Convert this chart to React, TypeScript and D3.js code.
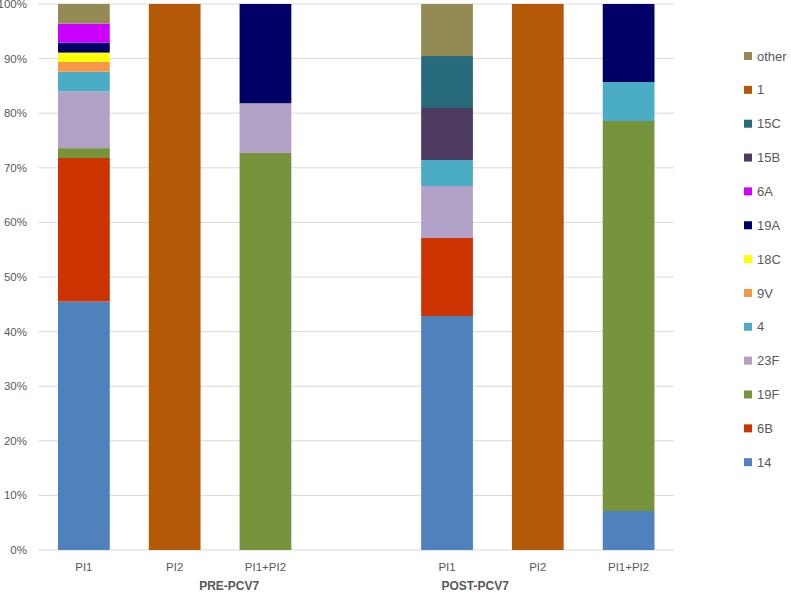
import React from "react";
import * as d3 from "d3";

const W = 791;
const H = 592;

const categories = ["PI1", "PI2", "PI1+PI2", "", "PI1", "PI2", "PI1+PI2"];
const slotKeys = ["pre-PI1", "pre-PI2", "pre-PI12", "gap", "post-PI1", "post-PI2", "post-PI12"];
const groups = ["PRE-PCV7", "POST-PCV7"];

// series in stacking order (bottom -> top); values for the 6 bars
const seriesNames = ["14", "6B", "19F", "23F", "4", "9V", "18C", "19A", "6A", "15B", "15C", "1", "other"];
const seriesColors = ["#4F81BD", "#CC3300", "#77933C", "#B2A1C7", "#4BACC6", "#F79646", "#FFFF00", "#000066", "#CC00FF", "#4D3B62", "#276A7C", "#B45908", "#948A54"];

const s14 = [45.5, 0, 0, 42.86, 0, 7.14];
const s6B = [26.3, 0, 0, 14.29, 0, 0];
const s19F = [1.8, 0, 72.73, 0, 0, 71.43];
const s23F = [10.4, 0, 9.09, 9.52, 0, 0];
const s4 = [3.6, 0, 0, 4.76, 0, 7.14];
const s9V = [1.8, 0, 0, 0, 0, 0];
const s18C = [1.7, 0, 0, 0, 0, 0];
const s19A = [1.8, 0, 18.18, 0, 0, 14.29];
const s6A = [3.5, 0, 0, 0, 0, 0];
const s15B = [0, 0, 0, 9.52, 0, 0];
const s15C = [0, 0, 0, 9.52, 0, 0];
const s1 = [0, 100, 0, 0, 100, 0];
const sOther = [3.6, 0, 0, 9.52, 0, 0];

const seriesValues = [s14, s6B, s19F, s23F, s4, s9V, s18C, s19A, s6A, s15B, s15C, s1, sOther];
const barKeys = ["pre-PI1", "pre-PI2", "pre-PI12", "post-PI1", "post-PI2", "post-PI12"];

const yTicks = [0, 10, 20, 30, 40, 50, 60, 70, 80, 90, 100];

const FONT = "'Liberation Sans', Arial, sans-serif";
const TEXT = "#595959";

export default function App() {
  const left = 38.5;
  const right = 674;
  const top = 4;
  const bottom = 550;

  const x = d3.scaleBand<string>().domain(slotKeys).range([left, right]).paddingInner(0.43).paddingOuter(0.215);
  const y = d3.scaleLinear().domain([0, 100]).range([bottom, top]);

  const rows = barKeys.map((k, i) => {
    const r: any = { key: k };
    seriesNames.forEach((s, j) => (r[s] = seriesValues[j][i]));
    return r;
  });
  const stack = d3.stack<any>().keys(seriesNames);
  const stacked = stack(rows);

  const step = x.step();
  const bw = x.bandwidth();
  const center = (k: string) => (x(k) as number) + bw / 2;
  const groupX = [center("pre-PI2") + step * 0.6, center("post-PI1") + step * 0.31];

  const legendTop = 56;
  const legendStep = 33.85;
  const legendOrder = seriesNames.map((n, i) => ({ n, c: seriesColors[i] })).reverse();

  return (
    <svg width={W} height={H} style={{ position: "absolute", left: 0, top: 0, background: "#fff" }} fontFamily={FONT}>
      {yTicks.map((t) => (
        <g key={t}>
          <line x1={left} x2={right} y1={y(t)} y2={y(t)} stroke="#D9D9D9" strokeWidth={1} />
          <text x={27} y={y(t)} dy="0.35em" textAnchor="end" fontSize={11.5} fill={TEXT}>
            {t}%
          </text>
        </g>
      ))}
      {stacked.map((layer, j) => (
        <g key={layer.key} fill={seriesColors[j]}>
          {layer.map((d, i) =>
            d[1] - d[0] > 0 ? (
              <rect key={i} x={x(barKeys[i])} width={bw} y={y(d[1])} height={y(d[0]) - y(d[1])} />
            ) : null
          )}
        </g>
      ))}
      {slotKeys.map((k, i) =>
        categories[i] ? (
          <text key={k} x={center(k)} y={571} textAnchor="middle" fontSize={11.5} fill={TEXT}>
            {categories[i]}
          </text>
        ) : null
      )}
      {groups.map((g, i) => (
        <text key={g} x={groupX[i]} y={590} textAnchor="middle" fontSize={12} fontWeight="bold" fill={TEXT}>
          {g}
        </text>
      ))}
      {legendOrder.map((l, i) => (
        <g key={l.n} transform={`translate(744,${legendTop + i * legendStep})`}>
          <rect x={0} y={-4} width={8} height={8} fill={l.c} />
          <text x={13} y={0} dy="0.35em" fontSize={13} fill={TEXT}>
            {l.n}
          </text>
        </g>
      ))}
    </svg>
  );
}
